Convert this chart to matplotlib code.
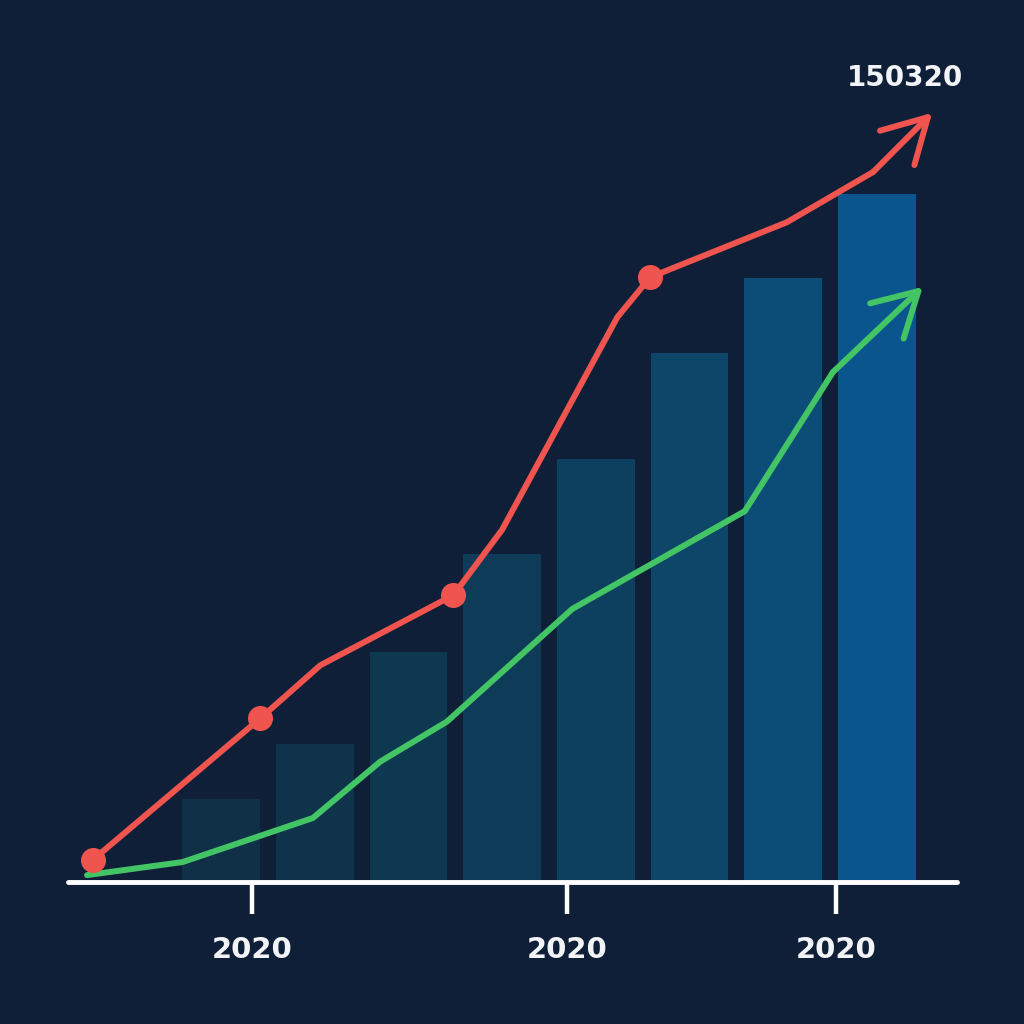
import matplotlib.pyplot as plt

# Balken (8 Stück, Höhe relativ, letzter Balken = 100)
bar_x = [1, 2, 3, 4, 5, 6, 7, 8]
bar_values = [12, 20, 33.4, 47.7, 61.5, 76.9, 87.8, 100]
bar_colors = ['#0f3046', '#0e334b', '#0e3750', '#0d3b58', '#0d405f', '#0d4669', '#0c4d78', '#0b558e']

# Rote Linie (mit Pfeil am Ende)
red_x = [-0.37, 1.42, 2.06, 3.48, 4.0, 5.23, 5.58, 7.04, 7.96]
red_y = [3.2, 23.8, 31.5, 41.7, 51.2, 82.1, 87.9, 95.9, 103.2]
red_marker_idx = [0, 1, 3, 6]
red_tip = (8.59, 111.8)

# Grüne Linie (mit Pfeil am Ende)
green_x = [-0.43, 0.59, 1.98, 2.70, 3.41, 4.75, 6.59, 7.53]
green_y = [1.0, 2.9, 9.3, 17.5, 23.3, 39.7, 53.9, 74.1]
green_tip = (8.49, 86.5)

# Achsenbeschriftung
tick_pos = [1.33, 4.69, 7.56]
tick_labels = ['2020', '2020', '2020']
top_label = '150320'

bg = '#0f1f38'
red = '#f0544e'
green = '#43c465'
lw = 4.3

fig = plt.figure(figsize=(10.24, 10.24), dpi=100, facecolor=bg)
ax = fig.add_axes([0, 0, 1, 1], facecolor=bg)

ax.bar(bar_x, bar_values, width=0.83, color=bar_colors, zorder=1)

# Linien
ax.plot(red_x, red_y, color=red, lw=lw, solid_capstyle='round', solid_joinstyle='round', zorder=3)
ax.plot([red_x[i] for i in red_marker_idx], [red_y[i] for i in red_marker_idx],
        'o', color=red, markersize=17, zorder=4)
ax.plot(green_x, green_y, color=green, lw=lw, solid_capstyle='round', solid_joinstyle='round', zorder=2)

# Pfeilspitzen
arrow_style = '->,head_length=1.25,head_width=0.7'
ax.annotate('', xy=red_tip, xytext=(red_x[-1], red_y[-1]),
            arrowprops=dict(arrowstyle=arrow_style, color=red, lw=lw,
                            mutation_scale=25, shrinkA=0, shrinkB=0, capstyle='round', joinstyle='round'),
            zorder=3)
ax.annotate('', xy=green_tip, xytext=(green_x[-1], green_y[-1]),
            arrowprops=dict(arrowstyle=arrow_style, color=green, lw=lw,
                            mutation_scale=25, shrinkA=0, shrinkB=0, capstyle='round', joinstyle='round'),
            zorder=2)

# Achsen
ax.set_xlim(-1.359, 9.570)
ax.set_ylim(-20.64, 128.2)
for s in ['top', 'right', 'left']:
    ax.spines[s].set_visible(False)
ax.spines['bottom'].set_position(('data', 0))
ax.spines['bottom'].set_bounds(-0.63, 8.85)
ax.spines['bottom'].set_color('white')
ax.spines['bottom'].set_linewidth(3.5)
ax.spines['bottom'].set_capstyle('round')
ax.spines['bottom'].set_zorder(5)

ax.set_yticks([])
ax.set_xticks(tick_pos)
ax.set_xticklabels(tick_labels, fontsize=21, fontweight='bold', color='#f2f4f7')
ax.tick_params(axis='x', direction='out', length=23, width=3.2, color='white', pad=16)

ax.text(0.884, 0.924, top_label, transform=ax.transAxes, ha='center', va='center',
        fontsize=20, fontweight='bold', color='#f2f4f7')

fig.savefig('out.png', dpi=100, facecolor=bg)
